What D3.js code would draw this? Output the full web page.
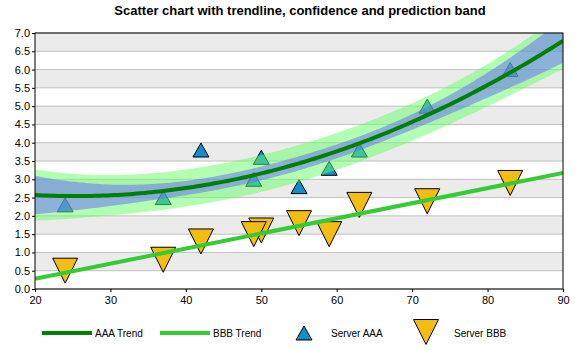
<!DOCTYPE html>
<html>
<head>
<meta charset="utf-8">
<script src="https://cdn.jsdelivr.net/npm/d3@7"></script>
<style>
  body { margin: 0; background: #fff; }
  svg { display: block; font-family: "Liberation Sans", Arial, sans-serif; }
</style>
</head>
<body>
<div id="chart"></div>
<script>
// data
const serverX = [50, 55, 37, 24, 42, 49, 63, 72, 83, 59];
const aaaY = [3.6, 2.8, 2.5, 2.3, 3.8, 3.0, 3.8, 5.0, 6.0, 3.3];
const bbbY = [1.6, 1.8, 0.8, 0.5, 1.3, 1.5, 2.3, 2.4, 2.9, 1.5];
const xTicks = [20, 30, 40, 50, 60, 70, 80, 90];
const yTicks = d3.range(0, 7.01, 0.5);
const legendItems = ["AAA Trend", "BBB Trend", "Server AAA", "Server BBB"];

const width = 575, height = 350;
const margin = { top: 33, right: 12, bottom: 61, left: 35 };

const svg = d3.select("#chart").append("svg")
    .attr("width", width)
    .attr("height", height);

const x = d3.scaleLinear().domain([20, 90]).range([margin.left, width - margin.right]);
const y = d3.scaleLinear().domain([0, 7]).range([height - margin.bottom, margin.top]);

svg.append("text")
    .attr("x", 300)
    .attr("y", 15)
    .attr("text-anchor", "middle")
    .attr("font-size", "13px")
    .attr("font-weight", "bold")
    .text("Scatter chart with trendline, confidence and prediction band");

// alternating bands
const bands = svg.append("g");
yTicks.slice(0, -1).forEach((t, i) => {
    bands.append("rect")
        .attr("x", x(20))
        .attr("y", y(t + 0.5))
        .attr("width", x(90) - x(20))
        .attr("height", y(t) - y(t + 0.5))
        .attr("fill", i % 2 === 1 ? "#ebebeb" : "#ffffff");
});

// grid lines
svg.append("g").selectAll("line")
    .data(yTicks)
    .enter()
    .append("line")
    .attr("x1", x(20))
    .attr("x2", x(90))
    .attr("y1", d => y(d))
    .attr("y2", d => y(d))
    .attr("stroke", "#c0c0c0")
    .attr("stroke-width", 1);

// ---- regression ----
// quadratic fit for AAA
const n = serverX.length;
const X = serverX.map(v => [1, v, v * v]);
const XtX = [0, 1, 2].map(i => [0, 1, 2].map(j => d3.sum(X, r => r[i] * r[j])));
const XtY = [0, 1, 2].map(i => d3.sum(X, (r, k) => r[i] * aaaY[k]));

function inv3(m) {
    const [a, b, c] = m[0], [d, e, f] = m[1], [g, h, k] = m[2];
    const A = e * k - f * h, B = -(d * k - f * g), C = d * h - e * g;
    const det = a * A + b * B + c * C;
    return [
        [A / det, -(b * k - c * h) / det, (b * f - c * e) / det],
        [B / det, (a * k - c * g) / det, -(a * f - c * d) / det],
        [C / det, -(a * h - b * g) / det, (a * e - b * d) / det]
    ];
}
const XtXi = inv3(XtX);
const coef = XtXi.map(r => d3.sum(r, (v, j) => v * XtY[j]));
const fitQ = v => coef[0] + coef[1] * v + coef[2] * v * v;
const sse = d3.sum(serverX, (v, k) => (aaaY[k] - fitQ(v)) ** 2);
const s = Math.sqrt(sse / (n - 3));
const tVal = 2.365;
// band width as it shows in the reference (narrower than the textbook interval)
const k95 = tVal * s / Math.sqrt(n - 3);
const lev = v => {
    const r = [1, v, v * v];
    return d3.sum([0, 1, 2], i => d3.sum([0, 1, 2], j => r[i] * XtXi[i][j] * r[j]));
};

// linear fit for BBB
const mx = d3.mean(serverX), my = d3.mean(bbbY);
const slope = d3.sum(serverX, (v, k) => (v - mx) * (bbbY[k] - my)) / d3.sum(serverX, v => (v - mx) ** 2);
const fitL = v => my + slope * (v - mx);

const xs = d3.range(20, 90.001, 0.5);

// ---- markers ----
const upTri = "M0,-7L8,7L-8,7Z";
const downTri = "M-12.5,-12.5L12.5,-12.5L0,12.5Z";

svg.append("g").selectAll("path")
    .data(serverX.map((v, i) => [v, aaaY[i]]))
    .enter()
    .append("path")
    .attr("d", upTri)
    .attr("transform", d => `translate(${x(d[0])},${y(d[1])})`)
    .attr("fill", "#1090c8")
    .attr("stroke", "#000")
    .attr("stroke-width", 1);

svg.append("g").selectAll("path")
    .data(serverX.map((v, i) => [v, bbbY[i]]))
    .enter()
    .append("path")
    .attr("d", downTri)
    .attr("transform", d => `translate(${x(d[0])},${y(d[1])})`)
    .attr("fill", "#f5bd14")
    .attr("stroke", "#000")
    .attr("stroke-width", 1);

// ---- bands ----
svg.append("clipPath").attr("id", "plot-clip")
    .append("rect")
    .attr("x", x(20)).attr("y", y(7))
    .attr("width", x(90) - x(20)).attr("height", y(0) - y(7));

const bandArea = k => d3.area()
    .x(d => x(d))
    .y0(d => y(fitQ(d) - k(d)))
    .y1(d => y(fitQ(d) + k(d)));

const plot = svg.append("g").attr("clip-path", "url(#plot-clip)");

plot.append("path")
    .datum(xs)
    .attr("d", bandArea(v => k95 * Math.sqrt(1 + lev(v))))
    .attr("fill", "#66ff66")
    .attr("fill-opacity", 0.5);

plot.append("path")
    .datum(xs)
    .attr("d", bandArea(v => k95 * Math.sqrt(lev(v))))
    .attr("fill", "#6666ff")
    .attr("fill-opacity", 0.5);

// ---- trend lines ----
plot.append("path")
    .datum(xs)
    .attr("d", d3.line().x(d => x(d)).y(d => y(fitQ(d))))
    .attr("fill", "none")
    .attr("stroke", "#008000")
    .attr("stroke-width", 4);

plot.append("path")
    .datum([20, 90])
    .attr("d", d3.line().x(d => x(d)).y(d => y(fitL(d))))
    .attr("fill", "none")
    .attr("stroke", "#33cc33")
    .attr("stroke-width", 4);

// ---- axes ----
const yAxis = svg.append("g")
    .attr("transform", `translate(${x(20)},0)`)
    .call(d3.axisLeft(y).tickValues(yTicks).tickFormat(d3.format(".1f")).tickSize(3).tickPadding(2));
const xAxis = svg.append("g")
    .attr("transform", `translate(0,${y(0)})`)
    .call(d3.axisBottom(x).tickValues(xTicks).tickSize(3).tickPadding(4));
[xAxis, yAxis].forEach(a => {
    a.select(".domain").remove();
    a.selectAll("line").attr("stroke", "#000");
    a.selectAll("text").attr("font-size", "11px").attr("fill", "#000")
        .attr("font-family", "Liberation Sans, Arial, sans-serif");
});

svg.append("rect")
    .attr("x", x(20)).attr("y", y(7))
    .attr("width", x(90) - x(20)).attr("height", y(0) - y(7))
    .attr("fill", "none")
    .attr("stroke", "#000")
    .attr("stroke-width", 1);

// ---- legend ----
const legend = svg.append("g").attr("font-size", "10px");
const ly = 333;
[["#008000", 42], ["#33cc33", 160]].forEach(([c, lx], i) => {
    legend.append("line")
        .attr("x1", lx).attr("x2", lx + 50)
        .attr("y1", ly).attr("y2", ly)
        .attr("stroke", c).attr("stroke-width", 4);
    legend.append("text")
        .attr("x", lx + 53).attr("y", ly + 4)
        .text(legendItems[i]);
});
legend.append("path")
    .attr("d", upTri)
    .attr("transform", `translate(304,${ly})`)
    .attr("fill", "#1090c8").attr("stroke", "#000");
legend.append("text").attr("x", 331).attr("y", ly + 4).text(legendItems[2]);
legend.append("path")
    .attr("d", downTri)
    .attr("transform", `translate(426,${ly - 1})`)
    .attr("fill", "#f5bd14").attr("stroke", "#000");
legend.append("text").attr("x", 454).attr("y", ly + 4).text(legendItems[3]);
</script>
</body>
</html>
